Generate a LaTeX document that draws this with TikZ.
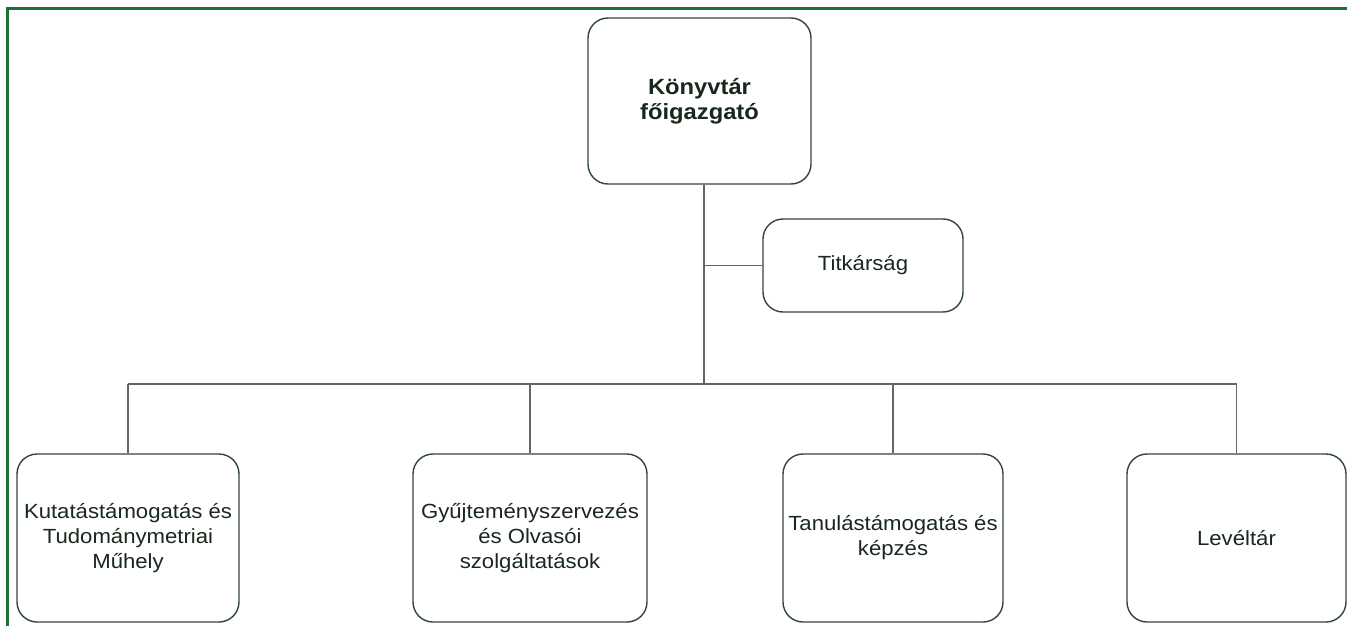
\documentclass[tikz,border=0pt]{standalone}
\usepackage{fontspec}
\setmainfont{Liberation Sans}[FakeStretch=1.08]
\definecolor{frame}{RGB}{30,110,55}
\definecolor{boxline}{RGB}{50,72,55}
\definecolor{conn}{RGB}{95,105,98}
\definecolor{txt}{RGB}{25,40,28}
\begin{document}
\begin{tikzpicture}[x=1pt,y=-1pt,
  orgbox/.style={draw=boxline, line width=1.4pt, rounded corners=20pt, fill=white,
    inner sep=0pt, align=center, text=txt, font=\fontsize{20.5}{25}\selectfont},
  conline/.style={draw=conn, line width=1.3pt}]
\useasboundingbox (0,0) rectangle (1347,626);
\fill[white] (0,0) rectangle (1347,626);
% frame (top and left edges only)
\draw[frame, line width=2.6pt] (7.5,626) -- (7.5,8.5) -- (1347,8.5);
% nodes
\node[orgbox, minimum width=223pt, minimum height=166pt, font=\fontsize{22}{25}\selectfont\bfseries] (top) at (699.5,101) {Könyvtár\\főigazgató};
\node[orgbox, minimum width=200pt, minimum height=93pt] (tit) at (863,265.5) {Titkárság};
\node[orgbox, minimum width=222pt, minimum height=168pt] (k1) at (128,538) {Kutatástámogatás és\\Tudománymetriai\\Műhely};
\node[orgbox, minimum width=234pt, minimum height=168pt] (k2) at (530,538) {Gyűjteményszervezés\\és Olvasói\\szolgáltatások};
\node[orgbox, minimum width=220pt, minimum height=168pt] (k3) at (893,538) {Tanulástámogatás és\\képzés};
\node[orgbox, minimum width=219pt, minimum height=168pt] (k4) at (1236.5,538) {Levéltár};
\coordinate (bus) at (704,384);
% connectors
\draw[conline] (top.south -| bus) -- (bus);
\draw[conline] (tit.west) -- (tit.west -| bus);
\draw[conline] (k1.north |- bus) -- (k4.north |- bus);
\draw[conline] (k1.north) -- (k1.north |- bus);
\draw[conline] (k2.north) -- (k2.north |- bus);
\draw[conline] (k3.north) -- (k3.north |- bus);
\draw[conline] (k4.north) -- (k4.north |- bus);
\end{tikzpicture}
\end{document}
